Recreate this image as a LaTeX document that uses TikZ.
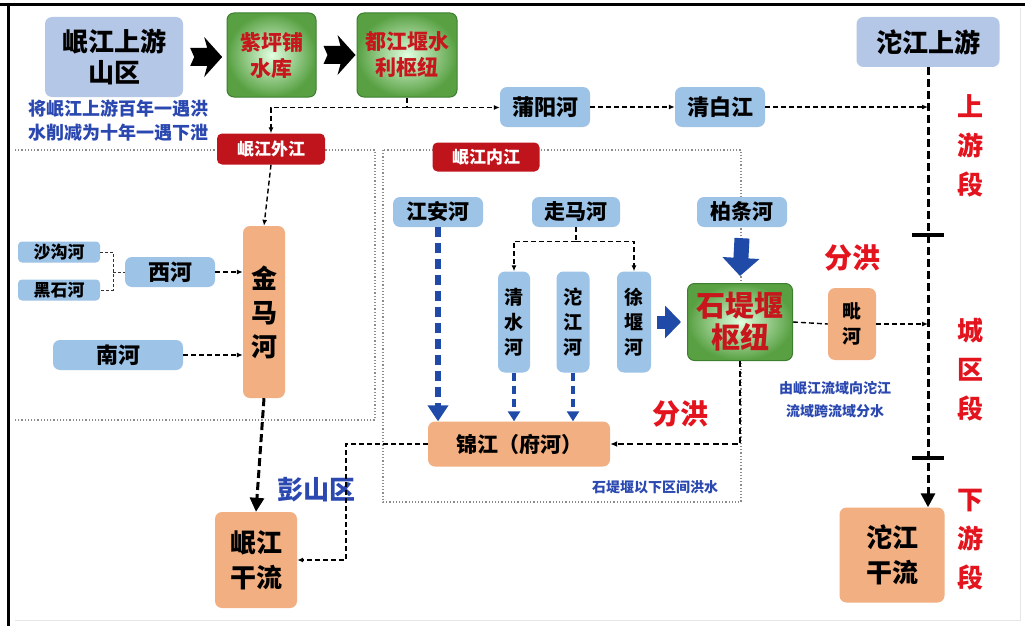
\documentclass[tikz,border=0pt]{standalone}
\usepackage{fontspec}
\setmainfont{Noto Sans CJK SC}
\usetikzlibrary{calc,arrows.meta}
\definecolor{lblue}{HTML}{9DC3E6}
\definecolor{lav}{HTML}{B4C7E7}
\definecolor{orng}{HTML}{F2AF82}
\definecolor{dred}{HTML}{C0141C}
\definecolor{rtxt}{HTML}{E3141E}
\definecolor{gtxt}{HTML}{C8161D}
\definecolor{btxt}{HTML}{2A48B0}
\definecolor{fblue}{HTML}{1F4AA8}
\definecolor{gout}{HTML}{58A042}
\definecolor{gdraw}{HTML}{3E7E30}
\newcommand{\fs}[2]{\fontsize{#1}{#2}\selectfont\bfseries}
\tikzset{
  box/.style={rounded corners=7pt, inner sep=0pt, align=center},
  lbbox/.style={box, fill=lblue},
  lavbox/.style={box, fill=lav},
  orbox/.style={box, fill=orng},
  grbox/.style={box, draw=gdraw, line width=1pt, inner color=green!12!white, outer color=gout, text=gtxt},
  rdlabel/.style={box, rounded corners=5pt, fill=dred, text=white},
  bnote/.style={align=center, text=btxt, inner sep=0pt},
  rnote/.style={align=center, text=rtxt, inner sep=0pt},
  dline/.style={line width=1.4pt, dash pattern=on 5pt off 3pt, -{Latex[length=6pt,width=5pt]}},
  dplain/.style={line width=1.4pt, dash pattern=on 5pt off 3pt},
  thinline/.style={line width=0.8pt, dash pattern=on 3pt off 2pt, black!80},
  thickd/.style={line width=3pt, dash pattern=on 8pt off 4pt, -{Triangle[length=14pt,width=14pt]}},
  bigblue/.style={fblue, line width=6pt, dash pattern=on 10pt off 6pt, -{Triangle[length=16pt,width=20pt]}},
  smblue/.style={fblue, line width=3.5pt, dash pattern=on 8pt off 5pt, -{Triangle[length=10pt,width=12pt]}},
  fatblue/.style={fblue, line width=15pt, -{Triangle[length=18pt,width=36pt]}},
  area/.style={black!45, line width=1.2pt, dotted},
}
\begin{document}
\begin{tikzpicture}[x=1pt,y=-1pt]
\useasboundingbox (0,0) rectangle (1025,626);
\fill[white] (0,0) rectangle (1025,626);
% frame
\draw[line width=3pt] (0,5) -- (1025,5);
\draw[line width=3pt] (8,5) -- (8,626);
\draw[black!10, line width=0.8pt] (1020,8) -- (1020,620) -- (15,620);
% dotted areas
\draw[area] (15,150) -- (375,150) -- (375,420) -- (15,420);
\draw[area] (383,150) rectangle (741,502);
% top row
\node[lavbox, minimum width=138pt, minimum height=80pt, font=\fs{26}{31}] (shanqu) at (114,57) {岷江上游\\山区};
\node[grbox, minimum width=89pt, minimum height=84pt, font=\fs{21}{26}] (zpp) at (271.5,55) {紫坪铺\\水库};
\node[grbox, minimum width=100pt, minimum height=84pt, font=\fs{21}{26}] (djy) at (407,55) {都江堰水\\利枢纽};
\fill ($(shanqu.east)+(7,0)$) ++(0,-9) -- ++(17,0) -- ++(-3,-11) -- ++(18,20) -- ++(-18,20) -- ++(3,-11) -- ++(-17,0) -- ++(4,-9) -- cycle;
\fill ($(zpp.east)+(7,0)$) ++(0,-9) -- ++(17,0) -- ++(-3,-11) -- ++(18,20) -- ++(-18,20) -- ++(3,-11) -- ++(-17,0) -- ++(4,-9) -- cycle;
\node[bnote, font=\fs{18}{24}] (note1) at (118,121) {将岷江上游百年一遇洪\\水削减为十年一遇下泄};
\node[lbbox, minimum width=90pt, minimum height=40pt, font=\fs{22}{26}] (pyh) at (545,107) {蒲阳河};
\node[lbbox, minimum width=90pt, minimum height=40pt, font=\fs{22}{26}] (qbj) at (720,107) {清白江};
\node[lavbox, minimum width=143pt, minimum height=50pt, font=\fs{26}{31}] (tjsy) at (928,42) {沱江上游};
\node[orbox, minimum width=105pt, minimum height=95pt, font=\fs{26}{35}] (tjgl) at (892,555) {沱江\\干流};
% segment labels
\node[rnote, font=\fs{26}{39}] (seg1) at (970,146) {上\\游\\段};
\node[rnote, font=\fs{26}{39}] (seg2) at (970,370) {城\\区\\段};
\node[rnote, font=\fs{26}{39}] (seg3) at (970,540) {下\\游\\段};
% labels
\node[rdlabel, minimum width=108pt, minimum height=31pt, font=\fs{17}{20}] (wj) at (271,149) {岷江外江};
\node[rdlabel, minimum width=107pt, minimum height=29pt, font=\fs{17}{20}] (nj) at (486,157) {岷江内江};
% inner
\node[lbbox, minimum width=90pt, minimum height=30pt, font=\fs{21}{25}] (jah) at (438,212) {江安河};
\node[lbbox, minimum width=88pt, minimum height=30pt, font=\fs{21}{25}] (zmh) at (576,212) {走马河};
\node[lbbox, minimum width=90pt, minimum height=30pt, font=\fs{21}{25}] (bth) at (742,212) {柏条河};
\node[lbbox, minimum width=32pt, minimum height=101pt, font=\fs{19}{25}] (qsh) at (514,322) {清\\水\\河};
\node[lbbox, minimum width=33pt, minimum height=101pt, font=\fs{19}{25}] (tjh) at (573,322) {沱\\江\\河};
\node[lbbox, minimum width=34pt, minimum height=101pt, font=\fs{19}{25}] (xyh) at (634,322) {徐\\堰\\河};
\node[grbox, minimum width=105pt, minimum height=77pt, font=\fs{29}{32}] (sdy) at (740,322) {石堤堰\\枢纽};
\node[orbox, minimum width=182pt, minimum height=45pt, font=\fs{21}{25}] (jj) at (519,444) {锦江（府河）};
\node[orbox, minimum width=48pt, minimum height=72pt, font=\fs{19}{25}] (ph) at (852,324) {毗\\河};
\node[rnote, font=\fs{28}{32}] (fh1) at (680,414) {分洪};
\node[rnote, font=\fs{28}{32}] (fh2) at (852,258) {分洪};
\node[bnote, font=\fs{14}{23}] (note2) at (835,400) {由岷江流域向沱江\\流域跨流域分水};
\node[bnote, font=\fs{14}{17}] (note3) at (655,487) {石堤堰以下区间洪水};
% left area
\node[orbox, minimum width=42pt, minimum height=172pt, font=\fs{26}{34}] (jmh) at (264,312) {金\\马\\河};
\node[lbbox, rounded corners=4pt, minimum width=82pt, minimum height=21pt, font=\fs{17}{20}] (sgh) at (59,252) {沙沟河};
\node[lbbox, rounded corners=4pt, minimum width=82pt, minimum height=21pt, font=\fs{17}{20}] (hsh) at (59,290) {黑石河};
\node[lbbox, minimum width=90pt, minimum height=30pt, font=\fs{22}{26}] (xh) at (170,272) {西河};
\node[lbbox, minimum width=130pt, minimum height=30pt, font=\fs{22}{26}] (nh) at (118,355) {南河};
\node[orbox, minimum width=82pt, minimum height=96pt, font=\fs{26}{35}] (mjgl) at (256,560) {岷江\\干流};
\node[bnote, font=\fs{26}{30}] (psq) at (316,490) {彭山区};
% connectors top
\coordinate (split) at ($(djy.south)+(0,10)$);
\draw[dplain] (djy.south) -- (split);
\draw[dline] (split) -- (split -| pyh.west);
\draw[dline] (split) -- (split -| wj.north) -- (wj.north);
\draw[dline] (pyh.east) -- (qbj.west);
\draw[dline] (qbj.east) -- (qbj.east -| tjsy.south);
\draw[thickd] (tjsy.south) -- (tjsy.south |- tjgl.north);
\draw[line width=3.5pt] ($(tjsy.south |- 0,235)+(-16,0)$) -- ++(32,0);
\draw[line width=3.5pt] ($(tjsy.south |- 0,458)+(-16,0)$) -- ++(32,0);
% left connectors
\draw[dline] (wj.south) -- (jmh.north);
\coordinate (jn) at ($(sgh.east)+(13,0)$);
\draw[thinline] (sgh.east) -- (jn) -- (jn |- hsh.east) -- (hsh.east);
\draw[thinline] (jn |- xh.west) -- (xh.west);
\draw[dline] (xh.east) -- (xh.east -| jmh.west);
\draw[dline] (nh.east) -- (nh.east -| jmh.west);
\draw[thickd] (jmh.south) -- (mjgl.north);
% inner connectors
\coordinate (zj) at ($(zmh.south)+(0,14)$);
\draw[dplain] (zmh.south) -- (zj);
\draw[dline] (zj) -| (qsh.north);
\draw[dline] (zj) -| (xyh.north);
\draw[bigblue] (jah.south) -- (jah.south |- jj.north);
\draw[smblue] (qsh.south) -- (qsh.south |- jj.north);
\draw[smblue] (tjh.south) -- (tjh.south |- jj.north);
\draw[fatblue] ($(bth.south)+(0,11)$) -- ($(sdy.north)+(0,-7)$);
\draw[fblue, line width=13pt, -{Triangle[length=16pt,width=32pt]}] ($(xyh.east)+(6,0)$) -- ($(sdy.west)+(-6,0)$);
\draw[line width=2pt, dash pattern=on 6pt off 3.5pt, -{Latex[length=7pt,width=6pt]}] (sdy.south) |- (jj.east);
\draw[dplain] (sdy.east) -- (ph.west);
\draw[dline] (ph.east) -- (ph.east -| tjsy.south);
\draw[dline] (jj.west) -- ++(-82,0) |- (mjgl.east);
\end{tikzpicture}
\end{document}
